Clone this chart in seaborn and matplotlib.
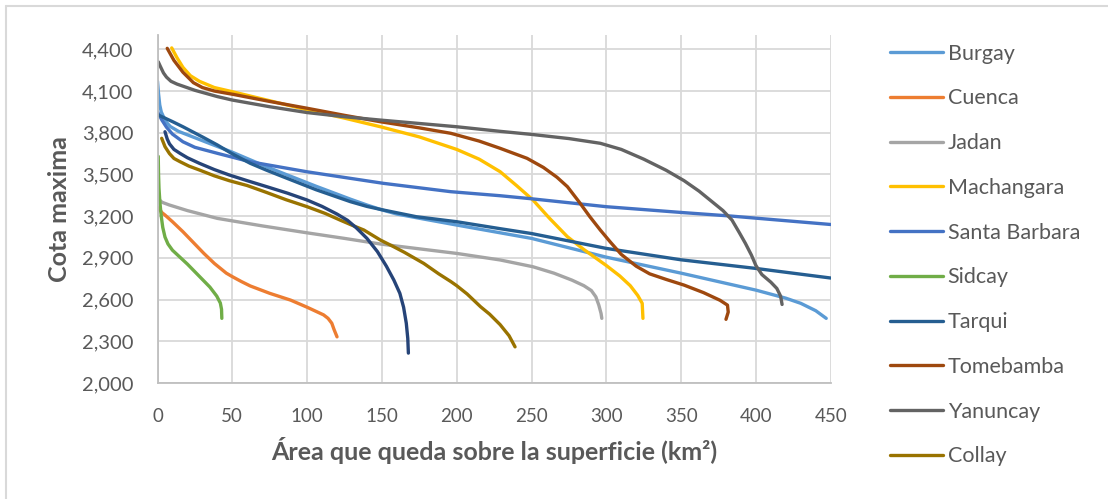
import matplotlib
matplotlib.use("Agg")
import matplotlib.pyplot as plt
from matplotlib.lines import Line2D
from matplotlib.ticker import FuncFormatter
import seaborn as sns

# Hypsometric curves: area above each elevation (km²) vs. elevation (m)
burgay_x = [0, 0.7, 1.5, 2.5, 4, 6, 8.5, 14, 20, 35, 50, 62, 73, 84, 106, 129, 140, 150, 160, 175,
            200, 250, 300, 350, 400, 420, 430, 440, 447]
burgay_y = [4170, 4080, 4000, 3950, 3915, 3875, 3845, 3810, 3785, 3722, 3660, 3605, 3555, 3508,
            3415, 3322, 3280, 3245, 3215, 3185, 3136, 3040, 2905, 2790, 2668, 2610, 2573, 2520, 2465]

cuenca_x = [0.5, 3, 5, 10, 17, 24, 31, 38, 46, 50, 56, 62, 75, 89, 100, 111, 114, 116.5, 118, 120]
cuenca_y = [3260, 3225, 3208, 3160, 3088, 3010, 2932, 2860, 2790, 2765, 2730, 2698, 2645, 2596,
            2545, 2490, 2465, 2430, 2385, 2332]

jadan_x = [1, 3, 8, 20, 40, 70, 100, 125, 150, 175, 200, 229, 251, 265, 277, 285, 290, 293, 295,
           296.5, 297]
jadan_y = [3320, 3300, 3280, 3240, 3184, 3130, 3080, 3040, 2998, 2965, 2932, 2885, 2836, 2790,
           2740, 2700, 2665, 2620, 2560, 2500, 2465]

machangara_x = [9.5, 13, 17, 22, 28, 38, 50, 75, 100, 125, 149, 175, 200, 215, 229, 240, 251, 262,
                274, 285, 300, 309, 316, 321, 324, 324.5]
machangara_y = [4410, 4340, 4270, 4210, 4170, 4125, 4095, 4030, 3965, 3905, 3843, 3770, 3680, 3610,
                3520, 3420, 3316, 3185, 3052, 2960, 2845, 2770, 2700, 2630, 2573, 2465]

santa_barbara_x = [0, 3, 6, 10, 17, 25, 40, 62, 100, 151, 196, 229, 250, 300, 352, 383, 450]
santa_barbara_y = [3950, 3890, 3840, 3790, 3735, 3695, 3652, 3591, 3519, 3436, 3376, 3347, 3325,
                   3268, 3225, 3201, 3140]

sidcay_x = [0.5, 0.7, 1, 1.6, 2.5, 3.5, 5, 7, 10, 15, 20, 25, 30, 35, 39.6, 42, 42.8, 43]
sidcay_y = [3630, 3500, 3400, 3300, 3200, 3120, 3050, 3000, 2955, 2905, 2855, 2800, 2745, 2690,
            2625, 2575, 2530, 2465]

tarqui_x = [0, 10, 17, 30, 40, 50, 62, 73, 84, 106, 129, 140, 151, 173, 200, 229, 250, 300, 350,
            400, 450]
tarqui_y = [3930, 3880, 3843, 3770, 3712, 3648, 3580, 3530, 3483, 3390, 3304, 3270, 3244, 3196,
            3160, 3110, 3075, 2968, 2886, 2824, 2755]

tomebamba_x = [6.5, 11, 17, 24, 30, 38, 51, 75, 100, 125, 149, 175, 196, 215, 229, 247, 258, 267,
               274, 282, 289, 296, 303, 310, 320, 329, 340, 352, 365, 376, 381, 381.5, 380]
tomebamba_y = [4407, 4320, 4235, 4160, 4125, 4100, 4075, 4025, 3976, 3925, 3879, 3835, 3796, 3740,
               3688, 3616, 3550, 3480, 3412, 3300, 3196, 3100, 3010, 2925, 2840, 2785, 2745, 2704,
               2650, 2595, 2560, 2510, 2458]

yanuncay_x = [0.5, 2, 4, 6, 9, 13, 25, 40, 50, 75, 100, 125, 149, 200, 229, 250, 275, 296, 310,
              325, 340, 352, 362, 370, 378, 384, 389, 393, 397, 400, 404, 410, 414, 416.5, 417.5]
yanuncay_y = [4310, 4275, 4230, 4200, 4170, 4150, 4105, 4060, 4035, 3987, 3945, 3915, 3891, 3843,
              3810, 3788, 3758, 3724, 3680, 3610, 3530, 3455, 3380, 3310, 3240, 3172, 3080, 3004,
              2920, 2845, 2780, 2725, 2680, 2625, 2565]

collay_x = [2.8, 5, 8, 11, 15, 21, 28, 38, 48, 60, 73, 86, 100, 112, 122, 130, 138, 149, 157, 165,
            178, 188, 196, 200, 207, 216, 222, 229, 235, 239]
collay_y = [3760, 3700, 3650, 3615, 3592, 3560, 3532, 3490, 3455, 3420, 3370, 3318, 3268, 3220,
            3172, 3135, 3100, 3028, 2985, 2940, 2860, 2785, 2730, 2700, 2640, 2548, 2495, 2420,
            2340, 2260]

# eleventh series, left out of the legend
serie11_x = [5, 6.5, 8, 11, 15, 20, 28, 38, 48, 60, 73, 87, 100, 110, 120, 127, 133, 140, 147, 153,
             158, 162, 164.5, 166.3, 167.3, 167.7]
serie11_y = [3807, 3755, 3720, 3680, 3652, 3620, 3580, 3535, 3496, 3455, 3412, 3365, 3316, 3270,
             3215, 3170, 3115, 3040, 2945, 2840, 2740, 2645, 2545, 2430, 2320, 2215]

names = ["Burgay", "Cuenca", "Jadan", "Machangara", "Santa Barbara",
         "Sidcay", "Tarqui", "Tomebamba", "Yanuncay", "Collay"]
series = [(burgay_x, burgay_y), (cuenca_x, cuenca_y), (jadan_x, jadan_y),
          (machangara_x, machangara_y), (santa_barbara_x, santa_barbara_y),
          (sidcay_x, sidcay_y), (tarqui_x, tarqui_y), (tomebamba_x, tomebamba_y),
          (yanuncay_x, yanuncay_y), (collay_x, collay_y)]
colors = ["#5B9BD5", "#ED7D31", "#A5A5A5", "#FFC000", "#4472C4",
          "#70AD47", "#255E91", "#9E480E", "#636363", "#997300"]
serie11_color = "#264478"

x_ticks = list(range(0, 451, 50))
y_ticks = list(range(2000, 4401, 300))

sns.set_theme(style="white")
plt.rcParams["font.family"] = ["Lato", "DejaVu Sans"]

W, H = 1108, 499
fig = plt.figure(figsize=(W / 100, H / 100), dpi=100)
ax = fig.add_axes([157.5 / W, 1 - 383 / H, (830.7 - 157.5) / W, (383 - 35.4) / H])

text_col = "#595959"
grid_col = "#D9D9D9"
lw = 2.4

for (xs, ys), c in zip(series, colors):
    sns.lineplot(x=xs, y=ys, sort=False, estimator=None, color=c, linewidth=lw,
                 ax=ax, legend=False)
sns.lineplot(x=serie11_x, y=serie11_y, sort=False, estimator=None,
             color=serie11_color, linewidth=lw, ax=ax, legend=False)
for ln in ax.get_lines():
    ln.set_solid_joinstyle("round")
    ln.set_solid_capstyle("round")

ax.set_xlim(0, 450)
ax.set_ylim(2000, 4500)
ax.set_xticks(x_ticks)
ax.set_yticks(y_ticks)
ax.yaxis.set_major_formatter(FuncFormatter(lambda v, p: f"{int(v):,}"))
ax.grid(True, color=grid_col, linewidth=1.3)
ax.set_axisbelow(True)
for s in ["top", "right"]:
    ax.spines[s].set_visible(False)
for s in ["left", "bottom"]:
    ax.spines[s].set_color("#BFBFBF")
    ax.spines[s].set_linewidth(1.3)
ax.tick_params(axis="both", length=0, labelcolor=text_col)
ax.tick_params(axis="y", labelsize=14.5, pad=17.5)
ax.tick_params(axis="x", labelsize=13.5, pad=18)

ax.set_xlabel("Área que queda sobre la superficie (km²)", fontsize=18,
              fontweight="bold", color=text_col, labelpad=9)
ax.set_ylabel("Cota maxima", fontsize=18, fontweight="bold", color=text_col)
ax.yaxis.set_label_coords(-0.128, 0.5)

handles = [Line2D([], [], color=c, linewidth=lw) for c in colors]
leg = fig.legend(handles, names, loc="upper left",
                 bbox_to_anchor=(881 / W, 1 - 35 / H), frameon=False,
                 fontsize=15.5, handlelength=2.47, handletextpad=0.23,
                 labelspacing=1.15, borderaxespad=0)
for t in leg.get_texts():
    t.set_color(text_col)

# chart area outline
fig.add_artist(Line2D([6 / W, 6 / W], [0, 1 - 6 / H], color=grid_col, lw=1.5,
                      transform=fig.transFigure))
fig.add_artist(Line2D([6 / W, 1], [1 - 6 / H, 1 - 6 / H], color=grid_col, lw=1.5,
                      transform=fig.transFigure))

fig.savefig("out.png", dpi=100, facecolor="white")
